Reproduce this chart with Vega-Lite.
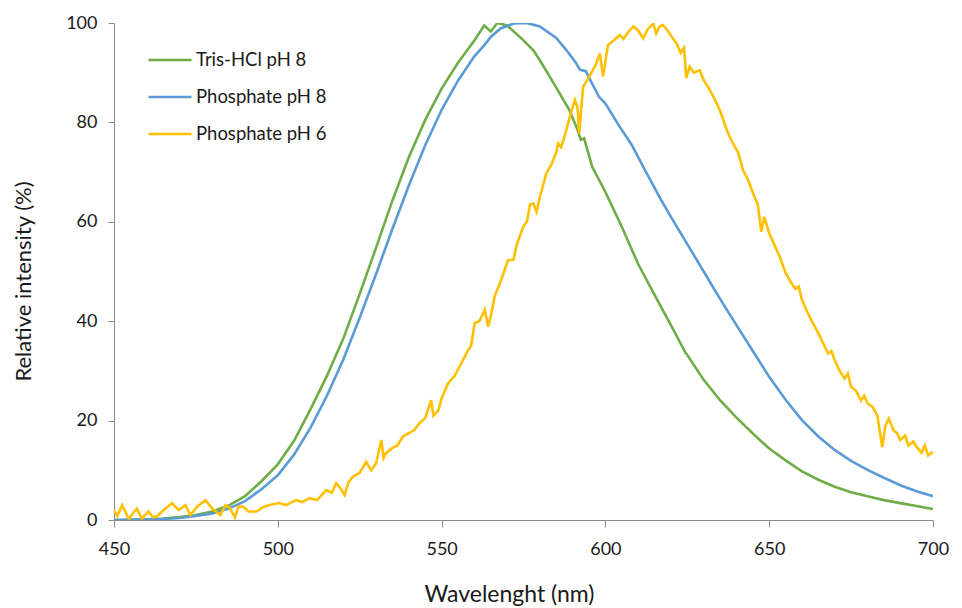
{
  "$schema": "https://vega.github.io/schema/vega-lite/v6.json",
  "width": 819,
  "height": 497,
  "autosize": {"type": "none"},
  "padding": {"left": 114, "top": 23, "right": 29, "bottom": 88},
  "background": "white",
  "config": {
    "view": {"stroke": null},
    "font": "Lato",
    "axis": {"grid": false, "domainColor": "#8c8c8c", "tickColor": "#8c8c8c", "labelColor": "#1a1a1a", "titleColor": "#1a1a1a", "labelFont": "Lato", "titleFont": "Lato", "labelFontWeight": "normal", "titleFontWeight": "normal"}
  },
  "datasets": {
    "spectra": [
      {"wl": 450, "v": 0, "s": "Tris-HCl pH 8"}, {"wl": 455, "v": 0.05, "s": "Tris-HCl pH 8"}, {"wl": 460, "v": 0.15, "s": "Tris-HCl pH 8"}, {"wl": 465, "v": 0.3, "s": "Tris-HCl pH 8"}, {"wl": 470, "v": 0.6, "s": "Tris-HCl pH 8"}, {"wl": 475, "v": 1.0, "s": "Tris-HCl pH 8"}, {"wl": 480, "v": 1.7, "s": "Tris-HCl pH 8"}, {"wl": 485, "v": 2.9, "s": "Tris-HCl pH 8"}, {"wl": 490, "v": 4.8, "s": "Tris-HCl pH 8"}, {"wl": 495, "v": 7.8, "s": "Tris-HCl pH 8"}, {"wl": 500, "v": 11.2, "s": "Tris-HCl pH 8"}, {"wl": 505, "v": 16, "s": "Tris-HCl pH 8"}, {"wl": 510, "v": 22.3, "s": "Tris-HCl pH 8"}, {"wl": 515, "v": 29, "s": "Tris-HCl pH 8"}, {"wl": 520, "v": 36.5, "s": "Tris-HCl pH 8"}, {"wl": 525, "v": 45.5, "s": "Tris-HCl pH 8"}, {"wl": 530, "v": 54.8, "s": "Tris-HCl pH 8"}, {"wl": 535, "v": 64.3, "s": "Tris-HCl pH 8"}, {"wl": 540, "v": 73, "s": "Tris-HCl pH 8"}, {"wl": 545, "v": 80.5, "s": "Tris-HCl pH 8"}, {"wl": 550, "v": 86.8, "s": "Tris-HCl pH 8"}, {"wl": 555, "v": 92, "s": "Tris-HCl pH 8"}, {"wl": 560, "v": 96.5, "s": "Tris-HCl pH 8"}, {"wl": 563, "v": 99.5, "s": "Tris-HCl pH 8"}, {"wl": 565, "v": 98.3, "s": "Tris-HCl pH 8"}, {"wl": 567, "v": 100, "s": "Tris-HCl pH 8"}, {"wl": 570, "v": 99.5, "s": "Tris-HCl pH 8"}, {"wl": 575, "v": 96.5, "s": "Tris-HCl pH 8"}, {"wl": 578, "v": 94.5, "s": "Tris-HCl pH 8"}, {"wl": 580, "v": 92.5, "s": "Tris-HCl pH 8"}, {"wl": 585, "v": 87, "s": "Tris-HCl pH 8"}, {"wl": 589, "v": 82.5, "s": "Tris-HCl pH 8"}, {"wl": 591.5, "v": 78.5, "s": "Tris-HCl pH 8"}, {"wl": 592.5, "v": 76.5, "s": "Tris-HCl pH 8"}, {"wl": 593.5, "v": 76.8, "s": "Tris-HCl pH 8"}, {"wl": 596, "v": 71, "s": "Tris-HCl pH 8"}, {"wl": 600, "v": 66, "s": "Tris-HCl pH 8"}, {"wl": 605, "v": 59, "s": "Tris-HCl pH 8"}, {"wl": 610, "v": 51.5, "s": "Tris-HCl pH 8"}, {"wl": 615, "v": 45.3, "s": "Tris-HCl pH 8"}, {"wl": 620, "v": 39.2, "s": "Tris-HCl pH 8"}, {"wl": 624.5, "v": 33.6, "s": "Tris-HCl pH 8"}, {"wl": 625, "v": 33.2, "s": "Tris-HCl pH 8"}, {"wl": 630, "v": 28.2, "s": "Tris-HCl pH 8"}, {"wl": 635, "v": 24.1, "s": "Tris-HCl pH 8"}, {"wl": 640, "v": 20.6, "s": "Tris-HCl pH 8"}, {"wl": 645, "v": 17.4, "s": "Tris-HCl pH 8"}, {"wl": 650, "v": 14.4, "s": "Tris-HCl pH 8"}, {"wl": 655, "v": 12, "s": "Tris-HCl pH 8"}, {"wl": 660, "v": 9.8, "s": "Tris-HCl pH 8"}, {"wl": 665, "v": 8.1, "s": "Tris-HCl pH 8"}, {"wl": 670, "v": 6.7, "s": "Tris-HCl pH 8"}, {"wl": 675, "v": 5.6, "s": "Tris-HCl pH 8"}, {"wl": 680, "v": 4.8, "s": "Tris-HCl pH 8"}, {"wl": 685, "v": 4.0, "s": "Tris-HCl pH 8"}, {"wl": 690, "v": 3.4, "s": "Tris-HCl pH 8"}, {"wl": 695, "v": 2.8, "s": "Tris-HCl pH 8"}, {"wl": 700, "v": 2.2, "s": "Tris-HCl pH 8"},

      {"wl": 450, "v": 0, "s": "Phosphate pH 8"}, {"wl": 455, "v": 0.05, "s": "Phosphate pH 8"}, {"wl": 460, "v": 0.1, "s": "Phosphate pH 8"}, {"wl": 465, "v": 0.2, "s": "Phosphate pH 8"}, {"wl": 470, "v": 0.4, "s": "Phosphate pH 8"}, {"wl": 475, "v": 0.8, "s": "Phosphate pH 8"}, {"wl": 480, "v": 1.3, "s": "Phosphate pH 8"}, {"wl": 485, "v": 2.3, "s": "Phosphate pH 8"}, {"wl": 490, "v": 3.8, "s": "Phosphate pH 8"}, {"wl": 495, "v": 6.2, "s": "Phosphate pH 8"}, {"wl": 500, "v": 9, "s": "Phosphate pH 8"}, {"wl": 505, "v": 13.2, "s": "Phosphate pH 8"}, {"wl": 510, "v": 18.6, "s": "Phosphate pH 8"}, {"wl": 515, "v": 25, "s": "Phosphate pH 8"}, {"wl": 520, "v": 32.3, "s": "Phosphate pH 8"}, {"wl": 525, "v": 40.7, "s": "Phosphate pH 8"}, {"wl": 530, "v": 49.5, "s": "Phosphate pH 8"}, {"wl": 535, "v": 58.6, "s": "Phosphate pH 8"}, {"wl": 540, "v": 67.3, "s": "Phosphate pH 8"}, {"wl": 545, "v": 75.4, "s": "Phosphate pH 8"}, {"wl": 550, "v": 82.5, "s": "Phosphate pH 8"}, {"wl": 555, "v": 88.4, "s": "Phosphate pH 8"}, {"wl": 560, "v": 93.3, "s": "Phosphate pH 8"}, {"wl": 563, "v": 95.5, "s": "Phosphate pH 8"}, {"wl": 565, "v": 97.2, "s": "Phosphate pH 8"}, {"wl": 568, "v": 98.9, "s": "Phosphate pH 8"}, {"wl": 572, "v": 99.9, "s": "Phosphate pH 8"}, {"wl": 576, "v": 100, "s": "Phosphate pH 8"}, {"wl": 580, "v": 99.3, "s": "Phosphate pH 8"}, {"wl": 585, "v": 97, "s": "Phosphate pH 8"}, {"wl": 588, "v": 94.6, "s": "Phosphate pH 8"}, {"wl": 591, "v": 92, "s": "Phosphate pH 8"}, {"wl": 592.2, "v": 90.6, "s": "Phosphate pH 8"}, {"wl": 594, "v": 90.3, "s": "Phosphate pH 8"}, {"wl": 598, "v": 85.2, "s": "Phosphate pH 8"}, {"wl": 600, "v": 83.8, "s": "Phosphate pH 8"}, {"wl": 604, "v": 79.5, "s": "Phosphate pH 8"}, {"wl": 608, "v": 75.5, "s": "Phosphate pH 8"}, {"wl": 612, "v": 70.5, "s": "Phosphate pH 8"}, {"wl": 617, "v": 64.4, "s": "Phosphate pH 8"}, {"wl": 620, "v": 61, "s": "Phosphate pH 8"}, {"wl": 625, "v": 55.5, "s": "Phosphate pH 8"}, {"wl": 630, "v": 50, "s": "Phosphate pH 8"}, {"wl": 635, "v": 44.5, "s": "Phosphate pH 8"}, {"wl": 640, "v": 39.2, "s": "Phosphate pH 8"}, {"wl": 645, "v": 34, "s": "Phosphate pH 8"}, {"wl": 650, "v": 28.8, "s": "Phosphate pH 8"}, {"wl": 655, "v": 24.2, "s": "Phosphate pH 8"}, {"wl": 660, "v": 20.1, "s": "Phosphate pH 8"}, {"wl": 665, "v": 16.8, "s": "Phosphate pH 8"}, {"wl": 670, "v": 14.1, "s": "Phosphate pH 8"}, {"wl": 675, "v": 11.9, "s": "Phosphate pH 8"}, {"wl": 680, "v": 10.1, "s": "Phosphate pH 8"}, {"wl": 685, "v": 8.5, "s": "Phosphate pH 8"}, {"wl": 690, "v": 7.0, "s": "Phosphate pH 8"}, {"wl": 695, "v": 5.8, "s": "Phosphate pH 8"}, {"wl": 700, "v": 4.8, "s": "Phosphate pH 8"},

      {"wl": 450, "v": 2.0, "s": "Phosphate pH 6"}, {"wl": 451, "v": 0.8, "s": "Phosphate pH 6"}, {"wl": 452.5, "v": 3.0, "s": "Phosphate pH 6"}, {"wl": 454.5, "v": 0.2, "s": "Phosphate pH 6"}, {"wl": 456, "v": 1.5, "s": "Phosphate pH 6"}, {"wl": 457, "v": 2.3, "s": "Phosphate pH 6"}, {"wl": 458.5, "v": 0.3, "s": "Phosphate pH 6"}, {"wl": 460.5, "v": 1.7, "s": "Phosphate pH 6"}, {"wl": 462, "v": 0.5, "s": "Phosphate pH 6"}, {"wl": 463.2, "v": 0.8, "s": "Phosphate pH 6"}, {"wl": 465.2, "v": 2.0, "s": "Phosphate pH 6"}, {"wl": 467.7, "v": 3.4, "s": "Phosphate pH 6"}, {"wl": 469.7, "v": 2.0, "s": "Phosphate pH 6"}, {"wl": 471.8, "v": 3.0, "s": "Phosphate pH 6"}, {"wl": 473.3, "v": 1.0, "s": "Phosphate pH 6"}, {"wl": 475.4, "v": 2.7, "s": "Phosphate pH 6"}, {"wl": 477.9, "v": 4.0, "s": "Phosphate pH 6"}, {"wl": 480, "v": 2.3, "s": "Phosphate pH 6"}, {"wl": 482.5, "v": 1.0, "s": "Phosphate pH 6"}, {"wl": 484, "v": 3.0, "s": "Phosphate pH 6"}, {"wl": 485.4, "v": 2.4, "s": "Phosphate pH 6"}, {"wl": 486.9, "v": 0.5, "s": "Phosphate pH 6"}, {"wl": 488, "v": 2.7, "s": "Phosphate pH 6"}, {"wl": 489.4, "v": 2.7, "s": "Phosphate pH 6"}, {"wl": 491, "v": 1.7, "s": "Phosphate pH 6"}, {"wl": 493.5, "v": 1.7, "s": "Phosphate pH 6"}, {"wl": 495.5, "v": 2.6, "s": "Phosphate pH 6"}, {"wl": 497.5, "v": 3.0, "s": "Phosphate pH 6"}, {"wl": 500.4, "v": 3.4, "s": "Phosphate pH 6"}, {"wl": 502.5, "v": 3.0, "s": "Phosphate pH 6"}, {"wl": 505.6, "v": 4.0, "s": "Phosphate pH 6"}, {"wl": 507.5, "v": 3.6, "s": "Phosphate pH 6"}, {"wl": 509.7, "v": 4.4, "s": "Phosphate pH 6"}, {"wl": 512, "v": 4.0, "s": "Phosphate pH 6"}, {"wl": 514.8, "v": 6.0, "s": "Phosphate pH 6"}, {"wl": 516.5, "v": 5.5, "s": "Phosphate pH 6"}, {"wl": 517.8, "v": 7.4, "s": "Phosphate pH 6"}, {"wl": 519, "v": 6.5, "s": "Phosphate pH 6"}, {"wl": 520.4, "v": 5.0, "s": "Phosphate pH 6"}, {"wl": 521.5, "v": 7.5, "s": "Phosphate pH 6"}, {"wl": 522.9, "v": 8.7, "s": "Phosphate pH 6"}, {"wl": 525, "v": 9.5, "s": "Phosphate pH 6"}, {"wl": 527, "v": 11.7, "s": "Phosphate pH 6"}, {"wl": 528.5, "v": 10.0, "s": "Phosphate pH 6"}, {"wl": 530, "v": 11.4, "s": "Phosphate pH 6"}, {"wl": 531.6, "v": 16.1, "s": "Phosphate pH 6"}, {"wl": 532.3, "v": 12.5, "s": "Phosphate pH 6"}, {"wl": 533, "v": 13.4, "s": "Phosphate pH 6"}, {"wl": 535, "v": 14.5, "s": "Phosphate pH 6"}, {"wl": 536.5, "v": 15.0, "s": "Phosphate pH 6"}, {"wl": 538.2, "v": 16.8, "s": "Phosphate pH 6"}, {"wl": 540, "v": 17.5, "s": "Phosphate pH 6"}, {"wl": 541.5, "v": 18.0, "s": "Phosphate pH 6"}, {"wl": 543.3, "v": 19.5, "s": "Phosphate pH 6"}, {"wl": 545, "v": 20.5, "s": "Phosphate pH 6"}, {"wl": 546.8, "v": 24.1, "s": "Phosphate pH 6"}, {"wl": 547.5, "v": 21.0, "s": "Phosphate pH 6"}, {"wl": 549, "v": 22.0, "s": "Phosphate pH 6"}, {"wl": 550, "v": 24.5, "s": "Phosphate pH 6"}, {"wl": 552, "v": 27.5, "s": "Phosphate pH 6"}, {"wl": 554, "v": 29.0, "s": "Phosphate pH 6"}, {"wl": 556, "v": 31.5, "s": "Phosphate pH 6"}, {"wl": 558.1, "v": 34.2, "s": "Phosphate pH 6"}, {"wl": 559, "v": 35.0, "s": "Phosphate pH 6"}, {"wl": 560.1, "v": 39.6, "s": "Phosphate pH 6"}, {"wl": 561.5, "v": 40.0, "s": "Phosphate pH 6"}, {"wl": 563.2, "v": 42.3, "s": "Phosphate pH 6"}, {"wl": 564.2, "v": 38.9, "s": "Phosphate pH 6"}, {"wl": 565, "v": 41.0, "s": "Phosphate pH 6"}, {"wl": 566.2, "v": 45.0, "s": "Phosphate pH 6"}, {"wl": 568, "v": 48.0, "s": "Phosphate pH 6"}, {"wl": 570.3, "v": 52.3, "s": "Phosphate pH 6"}, {"wl": 571.9, "v": 52.3, "s": "Phosphate pH 6"}, {"wl": 573, "v": 55.5, "s": "Phosphate pH 6"}, {"wl": 574.9, "v": 59.0, "s": "Phosphate pH 6"}, {"wl": 576, "v": 60.0, "s": "Phosphate pH 6"}, {"wl": 577, "v": 63.5, "s": "Phosphate pH 6"}, {"wl": 578, "v": 63.7, "s": "Phosphate pH 6"}, {"wl": 579, "v": 62.0, "s": "Phosphate pH 6"}, {"wl": 580, "v": 65.0, "s": "Phosphate pH 6"}, {"wl": 582, "v": 69.8, "s": "Phosphate pH 6"}, {"wl": 583.5, "v": 71.5, "s": "Phosphate pH 6"}, {"wl": 585, "v": 74.0, "s": "Phosphate pH 6"}, {"wl": 585.6, "v": 75.8, "s": "Phosphate pH 6"}, {"wl": 586.5, "v": 75.0, "s": "Phosphate pH 6"}, {"wl": 588.1, "v": 78.5, "s": "Phosphate pH 6"}, {"wl": 589.5, "v": 82.0, "s": "Phosphate pH 6"}, {"wl": 590.7, "v": 84.5, "s": "Phosphate pH 6"}, {"wl": 591.5, "v": 83.0, "s": "Phosphate pH 6"}, {"wl": 592, "v": 77.8, "s": "Phosphate pH 6"}, {"wl": 593.2, "v": 87.2, "s": "Phosphate pH 6"}, {"wl": 594.5, "v": 88.5, "s": "Phosphate pH 6"}, {"wl": 595.3, "v": 89.5, "s": "Phosphate pH 6"}, {"wl": 597, "v": 91.5, "s": "Phosphate pH 6"}, {"wl": 598.3, "v": 93.9, "s": "Phosphate pH 6"}, {"wl": 599.3, "v": 89.2, "s": "Phosphate pH 6"}, {"wl": 600.8, "v": 95.6, "s": "Phosphate pH 6"}, {"wl": 602.5, "v": 96.5, "s": "Phosphate pH 6"}, {"wl": 604.4, "v": 97.6, "s": "Phosphate pH 6"}, {"wl": 605.5, "v": 96.8, "s": "Phosphate pH 6"}, {"wl": 607, "v": 98.2, "s": "Phosphate pH 6"}, {"wl": 608.5, "v": 99.3, "s": "Phosphate pH 6"}, {"wl": 610, "v": 98.5, "s": "Phosphate pH 6"}, {"wl": 611.5, "v": 96.9, "s": "Phosphate pH 6"}, {"wl": 613, "v": 98.8, "s": "Phosphate pH 6"}, {"wl": 614.6, "v": 99.9, "s": "Phosphate pH 6"}, {"wl": 615.5, "v": 97.9, "s": "Phosphate pH 6"}, {"wl": 616.5, "v": 99.3, "s": "Phosphate pH 6"}, {"wl": 617.6, "v": 99.6, "s": "Phosphate pH 6"}, {"wl": 619, "v": 98.5, "s": "Phosphate pH 6"}, {"wl": 620.5, "v": 97.0, "s": "Phosphate pH 6"}, {"wl": 621.7, "v": 95.9, "s": "Phosphate pH 6"}, {"wl": 623, "v": 94.0, "s": "Phosphate pH 6"}, {"wl": 624, "v": 95.0, "s": "Phosphate pH 6"}, {"wl": 624.7, "v": 88.9, "s": "Phosphate pH 6"}, {"wl": 625.7, "v": 91.2, "s": "Phosphate pH 6"}, {"wl": 627, "v": 90.0, "s": "Phosphate pH 6"}, {"wl": 628.8, "v": 90.5, "s": "Phosphate pH 6"}, {"wl": 630, "v": 88.5, "s": "Phosphate pH 6"}, {"wl": 631.9, "v": 86.5, "s": "Phosphate pH 6"}, {"wl": 633.5, "v": 84.5, "s": "Phosphate pH 6"}, {"wl": 634.9, "v": 82.5, "s": "Phosphate pH 6"}, {"wl": 636, "v": 80.5, "s": "Phosphate pH 6"}, {"wl": 637, "v": 78.5, "s": "Phosphate pH 6"}, {"wl": 638, "v": 77.0, "s": "Phosphate pH 6"}, {"wl": 639.5, "v": 75.1, "s": "Phosphate pH 6"}, {"wl": 640.5, "v": 74.0, "s": "Phosphate pH 6"}, {"wl": 642, "v": 70.4, "s": "Phosphate pH 6"}, {"wl": 643.5, "v": 68.5, "s": "Phosphate pH 6"}, {"wl": 645.1, "v": 65.7, "s": "Phosphate pH 6"}, {"wl": 646.5, "v": 63.5, "s": "Phosphate pH 6"}, {"wl": 647.6, "v": 58.0, "s": "Phosphate pH 6"}, {"wl": 648.5, "v": 61.0, "s": "Phosphate pH 6"}, {"wl": 650, "v": 57.7, "s": "Phosphate pH 6"}, {"wl": 651.5, "v": 55.5, "s": "Phosphate pH 6"}, {"wl": 653.2, "v": 53.0, "s": "Phosphate pH 6"}, {"wl": 655, "v": 49.7, "s": "Phosphate pH 6"}, {"wl": 656.5, "v": 48.0, "s": "Phosphate pH 6"}, {"wl": 658, "v": 46.5, "s": "Phosphate pH 6"}, {"wl": 659, "v": 47.0, "s": "Phosphate pH 6"}, {"wl": 660, "v": 44.3, "s": "Phosphate pH 6"}, {"wl": 661.5, "v": 42.0, "s": "Phosphate pH 6"}, {"wl": 663, "v": 40.0, "s": "Phosphate pH 6"}, {"wl": 665, "v": 37.6, "s": "Phosphate pH 6"}, {"wl": 666.5, "v": 35.5, "s": "Phosphate pH 6"}, {"wl": 668, "v": 33.5, "s": "Phosphate pH 6"}, {"wl": 669, "v": 34.0, "s": "Phosphate pH 6"}, {"wl": 670, "v": 32.2, "s": "Phosphate pH 6"}, {"wl": 671.5, "v": 30.0, "s": "Phosphate pH 6"}, {"wl": 673, "v": 28.5, "s": "Phosphate pH 6"}, {"wl": 674, "v": 29.5, "s": "Phosphate pH 6"}, {"wl": 675, "v": 26.8, "s": "Phosphate pH 6"}, {"wl": 676.5, "v": 26.0, "s": "Phosphate pH 6"}, {"wl": 678, "v": 24.0, "s": "Phosphate pH 6"}, {"wl": 679, "v": 25.0, "s": "Phosphate pH 6"}, {"wl": 680, "v": 23.5, "s": "Phosphate pH 6"}, {"wl": 681.5, "v": 22.8, "s": "Phosphate pH 6"}, {"wl": 683, "v": 21.0, "s": "Phosphate pH 6"}, {"wl": 684.5, "v": 14.7, "s": "Phosphate pH 6"}, {"wl": 685.5, "v": 19.0, "s": "Phosphate pH 6"}, {"wl": 686.5, "v": 20.4, "s": "Phosphate pH 6"}, {"wl": 688, "v": 18.0, "s": "Phosphate pH 6"}, {"wl": 689, "v": 17.5, "s": "Phosphate pH 6"}, {"wl": 690, "v": 16.1, "s": "Phosphate pH 6"}, {"wl": 691.5, "v": 17.0, "s": "Phosphate pH 6"}, {"wl": 692.5, "v": 15.0, "s": "Phosphate pH 6"}, {"wl": 694, "v": 15.8, "s": "Phosphate pH 6"}, {"wl": 695, "v": 14.7, "s": "Phosphate pH 6"}, {"wl": 696.5, "v": 13.5, "s": "Phosphate pH 6"}, {"wl": 697.5, "v": 15.0, "s": "Phosphate pH 6"}, {"wl": 698.5, "v": 13.0, "s": "Phosphate pH 6"}, {"wl": 700, "v": 13.7, "s": "Phosphate pH 6"}
    ]
  },
  "data": {"name": "spectra"},
  "mark": {"type": "line", "strokeWidth": 2.6, "clip": true},
  "encoding": {
    "x": {
      "field": "wl", "type": "quantitative",
      "scale": {"domain": [450, 700], "nice": false, "zero": false},
      "axis": {"values": [450, 500, 550, 600, 650, 700], "title": "Wavelenght (nm)", "labelFontSize": 18, "tickSize": 7, "labelPadding": 13, "titleFontSize": 23, "titleX": 395, "titleY": 81.7, "titleBaseline": "alphabetic", "titleAlign": "center", "labelFlush": false}
    },
    "y": {
      "field": "v", "type": "quantitative",
      "scale": {"domain": [0, 100], "nice": false},
      "axis": {"values": [0, 20, 40, 60, 80, 100], "title": "Relative intensity (%)", "labelFontSize": 18, "tickSize": 6, "labelPadding": 11, "titleFontSize": 22, "titleX": -84, "titleY": 258, "titleBaseline": "alphabetic", "titleAlign": "center", "titleAngle": -90}
    },
    "color": {
      "field": "s", "type": "nominal",
      "scale": {"domain": ["Tris-HCl pH 8", "Phosphate pH 8", "Phosphate pH 6"], "range": ["#70AD47", "#5B9BD5", "#FFC000"]},
      "legend": {"title": null, "orient": "none", "legendX": 33, "legendY": 14, "symbolType": "stroke", "symbolSize": 1849, "symbolStrokeWidth": 2.6, "labelFontSize": 18.5, "labelFont": "Lato", "labelColor": "#1a1a1a", "labelOffset": 3, "rowPadding": 4, "padding": 0}
    },
    "detail": {"field": "s"}
  }
}
